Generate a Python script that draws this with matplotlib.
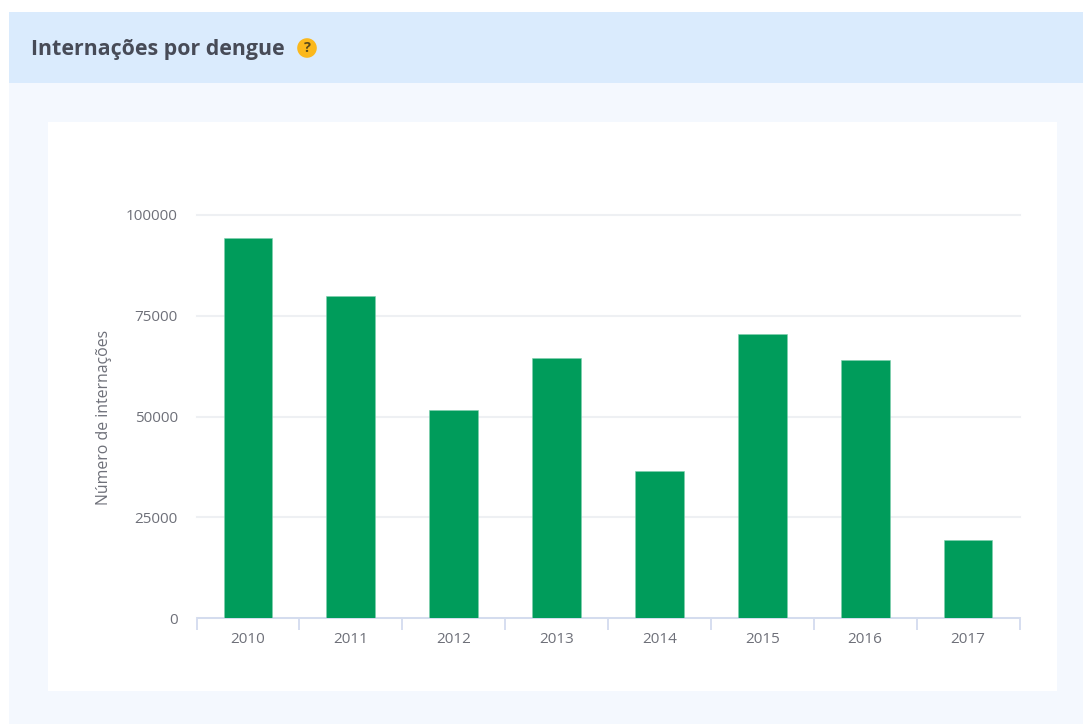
import matplotlib
matplotlib.use("Agg")
import matplotlib.pyplot as plt
from matplotlib.patches import Rectangle, Circle

years = ["2010", "2011", "2012", "2013", "2014", "2015", "2016", "2017"]
internacoes = [94400, 80000, 51700, 64600, 36500, 70400, 63900, 19400]
y_ticks = [0, 25000, 50000, 75000, 100000]
title = "Internações por dengue"
y_label = "Número de internações"

W, H = 1083, 724
plt.rcParams["font.family"] = ["Open Sans", "DejaVu Sans"]
fig = plt.figure(figsize=(W / 100, H / 100), dpi=100, facecolor="white")


def box(x0, y0, x1, y1, color):
    fig.add_artist(Rectangle((x0 / W, 1 - y1 / H), (x1 - x0) / W, (y1 - y0) / H,
                             transform=fig.transFigure, facecolor=color,
                             edgecolor="none", zorder=-5))


box(9, 12, 1083, 724, "#f4f8fe")
box(9, 12, 1083, 83, "#daebfd")
box(48, 122, 1057, 691, "#ffffff")

fig.text(31 / W, 1 - 50 / H, title, fontsize=15.4, fontweight="bold",
         color="#474b57", va="center", ha="left", family=["Open Sans", "DejaVu Sans"])

# help icon
icon_ax = fig.add_axes([297 / W, 1 - 58 / H, 20 / W, 20 / H])
icon_ax.set_xlim(-1, 1)
icon_ax.set_ylim(-1, 1)
icon_ax.axis("off")
icon_ax.add_patch(Circle((0, 0), 0.98, facecolor="#fbb81c", edgecolor="none"))
icon_ax.text(0, -0.04, "?", ha="center", va="center", fontsize=10.5,
             fontweight="bold", color="#5a4a1a")

ax = fig.add_axes([196.5 / W, 1 - 618 / H, 823 / W, 403 / H])
ax.patch.set_alpha(0)
positions = range(len(years))
ax.bar(positions, internacoes, width=0.475, color="#009c5b", edgecolor="#7fcfae",
       linewidth=0.4, zorder=3)
ax.set_xlim(-0.5, len(years) - 0.5)
ax.set_ylim(0, 100000)

ax.set_yticks(y_ticks)
ax.set_yticklabels([str(v) for v in y_ticks], fontsize=11, color="#6e7079")
ax.tick_params(axis="y", length=0, pad=13.5)
ax.grid(axis="y", color="#eef0f3", linewidth=1.5, zorder=0)
for line in ax.get_ygridlines():
    line.set_clip_on(False)
ax.set_axisbelow(True)

ax.set_xticks([p - 0.5 for p in positions] + [len(years) - 0.5])
ax.set_xticklabels([])
ax.set_xticks(list(positions), minor=True)
ax.set_xticklabels(years, minor=True, fontsize=11, color="#6e7079")
ax.tick_params(axis="x", which="major", length=8.6, width=1.2, color="#cfd8ee", direction="out")
ax.tick_params(axis="x", which="minor", length=0, pad=10)

for side in ("top", "right", "left"):
    ax.spines[side].set_visible(False)
ax.spines["bottom"].set_color("#cfd8ee")
ax.spines["bottom"].set_linewidth(1.2)

fig.text(103.5 / W, 1 - 417 / H, y_label, rotation=90, fontsize=11.4, color="#6e7079",
         va="center", ha="center")

fig.savefig("out.png", dpi=100, facecolor=fig.get_facecolor())
